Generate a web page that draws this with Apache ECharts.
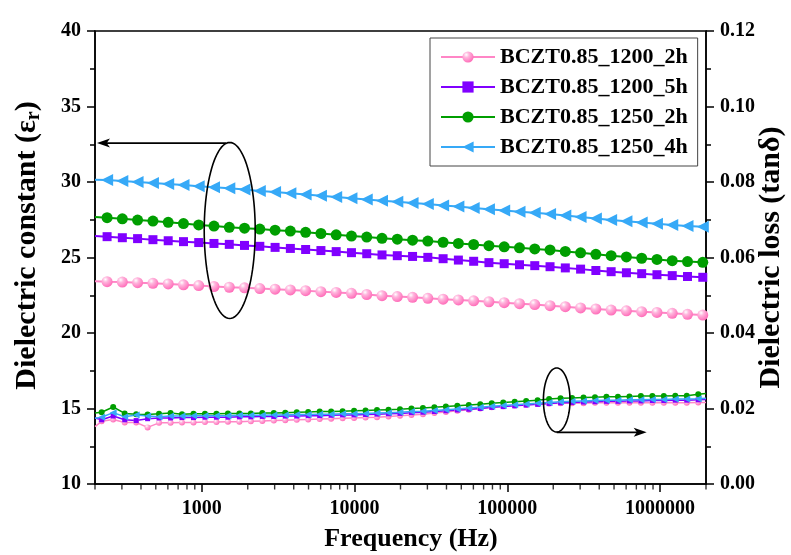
<!DOCTYPE html>
<html>
<head>
<meta charset="utf-8">
<script src="https://cdn.jsdelivr.net/npm/echarts@6/dist/echarts.min.js"></script>
<style>html,body{margin:0;padding:0;background:#fff}#c{width:791px;height:555px}</style>
</head>
<body>
<div id="c"></div>
<script>
// ---------- DATA ----------
const seriesNames = ['BCZT0.85_1200_2h', 'BCZT0.85_1200_5h', 'BCZT0.85_1250_2h', 'BCZT0.85_1250_4h'];
const xTickLabels = [1000, 10000, 100000, 1000000];
const leftTicks = [10, 15, 20, 25, 30, 35, 40];
const rightTicks = ['0.00', '0.02', '0.04', '0.06', '0.08', '0.10', '0.12'];

// frequencies (Hz) for dielectric constant curves (first/last = line ends without marker)
const freqEps = [200, 240, 302, 380, 479, 603, 759, 955, 1202, 1514, 1905, 2399, 3020, 3802, 4786, 6026, 7586, 9550,
  12023, 15136, 19055, 23988, 30200, 38019, 47863, 60256, 75858, 95499, 120226, 151356, 190546, 239883, 301995,
  380189, 478630, 602560, 758578, 954993, 1202264, 1513561, 1905461, 2000000];

const eps_1200_2h = [23.43, 23.40, 23.37, 23.33, 23.29, 23.25, 23.19, 23.14, 23.08, 23.03, 22.99, 22.94, 22.90, 22.85, 22.80,
  22.74, 22.69, 22.63, 22.55, 22.47, 22.41, 22.36, 22.30, 22.24, 22.19, 22.13, 22.07, 22.01, 21.94, 21.88, 21.81, 21.74,
  21.66, 21.59, 21.52, 21.47, 21.41, 21.36, 21.30, 21.24, 21.19, 21.17];
const eps_1200_5h = [26.42, 26.38, 26.31, 26.25, 26.18, 26.11, 26.05, 25.99, 25.93, 25.87, 25.80, 25.74, 25.67, 25.60, 25.53,
  25.46, 25.39, 25.32, 25.25, 25.17, 25.12, 25.07, 25.01, 24.92, 24.83, 24.75, 24.66, 24.59, 24.52, 24.46, 24.39, 24.31,
  24.23, 24.14, 24.06, 23.99, 23.93, 23.86, 23.80, 23.74, 23.69, 23.67];
const eps_1250_2h = [27.68, 27.64, 27.56, 27.48, 27.41, 27.33, 27.25, 27.16, 27.08, 27.00, 26.94, 26.88, 26.81, 26.75, 26.67,
  26.59, 26.50, 26.42, 26.35, 26.27, 26.21, 26.15, 26.09, 26.01, 25.93, 25.86, 25.78, 25.71, 25.64, 25.57, 25.50, 25.40,
  25.31, 25.21, 25.12, 25.04, 24.95, 24.87, 24.79, 24.73, 24.68, 24.66];
const eps_1250_4h = [30.15, 30.13, 30.07, 30.00, 29.94, 29.87, 29.80, 29.72, 29.65, 29.58, 29.50, 29.41, 29.33, 29.25, 29.17,
  29.09, 29.00, 28.92, 28.84, 28.76, 28.69, 28.61, 28.54, 28.45, 28.37, 28.28, 28.19, 28.11, 28.03, 27.96, 27.88, 27.78,
  27.68, 27.58, 27.48, 27.40, 27.32, 27.23, 27.15, 27.09, 27.04, 27.02];

// frequencies (Hz) for dielectric loss curves (first/last = line ends without marker)
const freqLoss = [200, 221, 263, 313, 372, 442, 525, 625, 742, 883, 1049, 1247, 1483, 1763, 2096, 2491, 2962, 3521, 4186,
  4976, 5916, 7031, 8358, 9936, 11811, 14040, 16691, 19841, 23586, 28038, 33334, 39628, 47108, 56001, 66573, 79141,
  94082, 111842, 132954, 158055, 187893, 223357, 265522, 315646, 375232, 446067, 530275, 630377, 749378, 890840,
  1059006, 1258925, 1496580, 1779111, 2000000];

const tan_1200_2h = [0.0152, 0.0166, 0.0171, 0.0163, 0.0163, 0.0150, 0.0162, 0.0162, 0.0163, 0.0163, 0.0164, 0.0164, 0.0165,
  0.0165, 0.0166, 0.0167, 0.0168, 0.0169, 0.0170, 0.0171, 0.0172, 0.0173, 0.0174, 0.0175, 0.0176, 0.0177, 0.0179, 0.0181,
  0.0183, 0.0185, 0.0188, 0.0191, 0.0194, 0.0197, 0.0200, 0.0203, 0.0206, 0.0208, 0.0210, 0.0212, 0.0213, 0.0214, 0.0214,
  0.0214, 0.0215, 0.0215, 0.0215, 0.0215, 0.0215, 0.0215, 0.0215, 0.0215, 0.0215, 0.0216, 0.0216];
const tan_1200_5h = [0.0175, 0.0170, 0.0180, 0.0170, 0.0168, 0.0173, 0.0175, 0.0175, 0.0176, 0.0176, 0.0177, 0.0177, 0.0177,
  0.0178, 0.0178, 0.0179, 0.0179, 0.0180, 0.0180, 0.0181, 0.0181, 0.0182, 0.0183, 0.0183, 0.0184, 0.0185, 0.0186, 0.0187,
  0.0189, 0.0190, 0.0192, 0.0194, 0.0196, 0.0198, 0.0200, 0.0203, 0.0205, 0.0207, 0.0209, 0.0211, 0.0213, 0.0215, 0.0216,
  0.0217, 0.0218, 0.0219, 0.0219, 0.0220, 0.0220, 0.0221, 0.0221, 0.0222, 0.0222, 0.0223, 0.0224];
const tan_1250_2h = [0.0188, 0.0190, 0.0204, 0.0187, 0.0185, 0.0184, 0.0186, 0.0188, 0.0185, 0.0186, 0.0186, 0.0186, 0.0187,
  0.0187, 0.0187, 0.0188, 0.0188, 0.0189, 0.0190, 0.0191, 0.0192, 0.0192, 0.0193, 0.0194, 0.0195, 0.0196, 0.0197, 0.0198,
  0.0200, 0.0201, 0.0203, 0.0205, 0.0207, 0.0209, 0.0211, 0.0214, 0.0216, 0.0218, 0.0220, 0.0222, 0.0225, 0.0227, 0.0228,
  0.0229, 0.0230, 0.0231, 0.0231, 0.0232, 0.0233, 0.0233, 0.0233, 0.0234, 0.0234, 0.0238, 0.0240];
const tan_1250_4h = [0.0174, 0.0177, 0.0189, 0.0178, 0.0183, 0.0180, 0.0178, 0.0180, 0.0180, 0.0181, 0.0181, 0.0181, 0.0181,
  0.0182, 0.0182, 0.0182, 0.0183, 0.0183, 0.0184, 0.0184, 0.0185, 0.0185, 0.0186, 0.0186, 0.0187, 0.0188, 0.0189, 0.0190,
  0.0192, 0.0193, 0.0195, 0.0197, 0.0199, 0.0201, 0.0203, 0.0206, 0.0208, 0.0210, 0.0212, 0.0214, 0.0216, 0.0218, 0.0219,
  0.0220, 0.0221, 0.0222, 0.0222, 0.0223, 0.0223, 0.0224, 0.0224, 0.0225, 0.0225, 0.0226, 0.0227];

// log minor tick positions on the frequency axis
const minorTickFreqs = [200, 300, 400, 500, 600, 700, 800, 900, 2000, 3000, 4000, 5000, 6000, 7000, 8000, 9000,
  20000, 30000, 40000, 50000, 60000, 70000, 80000, 90000, 200000, 300000, 400000, 500000, 600000, 700000, 800000, 900000,
  2000000];

// ---------- STYLE ----------
const FONT = 'Liberation Serif';
const colors = ['#ff86c6', '#8000ff', '#009e00', '#36a9f7'];
const pinkBall = new echarts.graphic.RadialGradient(0.35, 0.3, 0.7, [
  { offset: 0, color: '#ffffff' }, { offset: 0.35, color: '#ffb6dd' }, { offset: 1, color: '#ff6fba' }]);
const symbols = ['circle', 'rect', 'circle', 'triangle'];
const rotates = [0, 0, 0, 90];
const epsSizes = [11, 9, 11, 12];
const tanSizes = [6, 5, 6, 7];
const epsData = [eps_1200_2h, eps_1200_5h, eps_1250_2h, eps_1250_4h];
const tanData = [tan_1200_2h, tan_1200_5h, tan_1250_2h, tan_1250_4h];

function build(freqs, vals) {
  const last = vals.length - 1;
  return vals.map((v, i) => (i === 0 || i === last) ? { value: [freqs[i], v], symbol: 'none' } : [freqs[i], v]);
}

const series = [];
for (let s = 0; s < 4; s++) {
  series.push({
    name: seriesNames[s], type: 'line', xAxisIndex: 0, yAxisIndex: 0,
    data: build(freqEps, epsData[s]), symbol: symbols[s], symbolRotate: rotates[s], symbolSize: epsSizes[s],
    showSymbol: true, lineStyle: { color: colors[s], width: 2 },
    itemStyle: { color: s === 0 ? pinkBall : colors[s] }, z: 3
  });
}
for (let s = 0; s < 4; s++) {
  series.push({
    name: seriesNames[s], type: 'line', xAxisIndex: 0, yAxisIndex: 1,
    data: build(freqLoss, tanData[s]), symbol: symbols[s], symbolRotate: rotates[s], symbolSize: tanSizes[s],
    showSymbol: true, lineStyle: { color: colors[s], width: 1.5 },
    itemStyle: { color: s === 0 ? pinkBall : colors[s] }, z: 3
  });
}
series.push({
  type: 'scatter', xAxisIndex: 0, yAxisIndex: 0, silent: true, clip: false,
  data: minorTickFreqs.map(f => [f, leftTicks[0]]),
  symbol: 'rect', symbolSize: [1.4, 5], symbolOffset: [0, 3], itemStyle: { color: '#000' }, z: 10
});

const lbl = { fontFamily: FONT, fontWeight: 'bold', fontSize: 20, color: '#000' };

const chart = echarts.init(document.getElementById('c'), null, { renderer: 'canvas' });
chart.setOption({
  animation: false,
  backgroundColor: '#fff',
  grid: {
    left: 95, right: 85, top: 31, bottom: 71, containLabel: false, outerBoundsMode: 'none',
    show: true, borderColor: '#000', borderWidth: 1.5, backgroundColor: 'transparent'
  },
  legend: {
    data: seriesNames, orient: 'vertical', left: 430, top: 38, width: 267,
    itemWidth: 54, itemHeight: 14, itemGap: 8, padding: [8, 10, 8, 10],
    borderColor: '#444', borderWidth: 1, backgroundColor: '#fff',
    textStyle: { fontFamily: FONT, fontWeight: 'bold', fontSize: 22, color: '#000', lineHeight: 22 }
  },
  xAxis: [{
    type: 'log', logBase: 10, min: 200, max: 2000000,
    name: 'Frequency (Hz)', nameLocation: 'middle', nameGap: 42, nameMoveOverlap: false,
    nameTextStyle: { fontFamily: FONT, fontWeight: 'bold', fontSize: 26, color: '#000', padding: [0, 0, 0, 21] },
    axisLine: { lineStyle: { color: '#000', width: 1.5 } },
    axisTick: { show: true, inside: false, length: 8, lineStyle: { color: '#000', width: 1.5 } },
    splitLine: { show: false },
    axisLabel: Object.assign({
      margin: 15, showMinLabel: false, showMaxLabel: false,
      formatter: v => (xTickLabels.indexOf(Math.round(v)) >= 0 ? String(Math.round(v)) : '')
    }, lbl)
  }],
  yAxis: [{
    type: 'value', min: leftTicks[0], max: leftTicks[leftTicks.length - 1], interval: 5, position: 'left',
    name: '{a|Dielectric constant (ε}{b|r}{a|)}', nameLocation: 'middle', nameGap: 51, nameRotate: 90, nameMoveOverlap: false,
    nameTextStyle: {
      padding: [0, 0, 0, 24],
      rich: {
        a: { fontFamily: FONT, fontWeight: 'bold', fontSize: 30, color: '#000', lineHeight: 34 },
        b: { fontFamily: FONT, fontWeight: 'bold', fontSize: 20, color: '#000', verticalAlign: 'bottom', lineHeight: 22 }
      }
    },
    axisLine: { show: true, lineStyle: { color: '#000', width: 1.5 } },
    axisTick: { show: true, inside: false, length: 8, lineStyle: { color: '#000', width: 1.5 } },
    minorTick: { show: true, splitNumber: 2, length: 5, lineStyle: { color: '#000', width: 1.5 } },
    splitLine: { show: false },
    axisLabel: Object.assign({ margin: 14 }, lbl)
  }, {
    type: 'value', min: 0, max: 0.12, interval: 0.02, position: 'right',
    name: 'Dielectric loss (tanδ)', nameLocation: 'middle', nameGap: 50, nameRotate: 90, nameMoveOverlap: false,
    nameTextStyle: { fontFamily: FONT, fontWeight: 'bold', fontSize: 30, color: '#000', lineHeight: 30 },
    axisLine: { show: true, lineStyle: { color: '#000', width: 1.5 } },
    axisTick: { show: true, inside: false, length: 8, lineStyle: { color: '#000', width: 1.5 } },
    minorTick: { show: true, splitNumber: 2, length: 5, lineStyle: { color: '#000', width: 1.5 } },
    splitLine: { show: false },
    axisLabel: Object.assign({ margin: 14, formatter: v => rightTicks[Math.round(v / 0.02)] }, lbl)
  }],
  series: series
});

// ---------- annotations (anchored to data coordinates) ----------
function px(f, v, yi) { return chart.convertToPixel({ xAxisIndex: 0, yAxisIndex: yi }, [f, v]); }
function ellipse(c, rx, ry) {
  const pts = [];
  for (let i = 0; i < 96; i++) { const a = i / 96 * Math.PI * 2; pts.push([c[0] + rx * Math.cos(a), c[1] + ry * Math.sin(a)]); }
  return { type: 'polygon', shape: { points: pts }, style: { fill: 'none', stroke: '#000', lineWidth: 1.6 }, z: 20 };
}
function arrow(from, to) {
  const dir = Math.sign(to[0] - from[0]);
  const L = 13, W = 4.5;
  return [
    { type: 'line', shape: { x1: from[0], y1: from[1], x2: to[0] - dir * L * 0.7, y2: to[1] }, style: { stroke: '#000', lineWidth: 1.8 }, z: 20 },
    { type: 'polygon', shape: { points: [[to[0], to[1]], [to[0] - dir * L, to[1] - W], [to[0] - dir * L * 0.75, to[1]], [to[0] - dir * L, to[1] + W]] }, style: { fill: '#000' }, z: 20 }
  ];
}
const e1 = px(1524, 26.79, 0);
const a1s = px(1440, 32.58, 0), a1e = px(206, 32.58, 0);
const e2 = px(210700, 0.02225, 1);
const a2s = px(210700, 0.0137, 1), a2e = px(818000, 0.0137, 1);
chart.setOption({
  graphic: [ellipse(e1, 25.5, 88), ...arrow(a1s, a1e), ellipse(e2, 13.3, 32), ...arrow(a2s, a2e)]
});
</script>
</body>
</html>
